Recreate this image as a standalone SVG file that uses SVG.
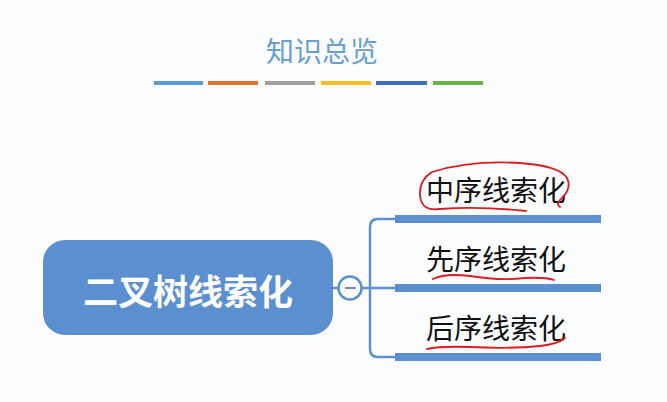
<svg xmlns="http://www.w3.org/2000/svg" width="667" height="402" viewBox="0 0 667 402">
<style>
.t{font-family:"Noto Sans CJK SC","Liberation Sans",sans-serif;}
.leaf{font-size:28px;fill:#111;}
.bar{fill:#5b8fd0;}
.conn{fill:none;stroke:#5b8fd0;stroke-width:2.5;}
.ink{fill:none;stroke:#d81e1e;stroke-width:1.8;stroke-linecap:round;stroke-linejoin:round;}
</style>
<rect width="667" height="402" fill="#fbfcfe"/>
<g id="header">
<text class="t" x="322" y="62" font-size="28" fill="#6a9fd4" text-anchor="middle">知识总览</text>
<rect x="154" y="81" width="49" height="4" fill="#5b9bd5"/>
<rect x="208" y="81" width="50" height="4" fill="#e0722c"/>
<rect x="265" y="81" width="50" height="4" fill="#a0a0a0"/>
<rect x="321" y="81" width="50" height="4" fill="#f5bd1f"/>
<rect x="376" y="81" width="51" height="4" fill="#3f6cbf"/>
<rect x="433" y="81" width="50" height="4" fill="#6ab545"/>
</g>
<g id="connectors">
<line class="conn" x1="333" y1="288" x2="338" y2="288"/>
<line class="conn" x1="362" y1="288" x2="396" y2="288"/>
<path class="conn" d="M396 219 H378 Q370 219 370 227 V349 Q370 357 378 357 H396"/>
</g>
<g id="root">
<rect x="43" y="240" width="290" height="95" rx="22" fill="#5b8fd0"/>
<text class="t" x="188" y="305" font-size="35" font-weight="bold" fill="#fff" text-anchor="middle">二叉树线索化</text>
</g>
<g id="toggle">
<circle cx="350" cy="288" r="11.5" fill="#fff" stroke="#5b8fd0" stroke-width="2.5"/>
<line x1="345" y1="288" x2="356" y2="288" stroke="#8a7fb0" stroke-width="2"/>
</g>
<g id="n1">
<rect class="bar" x="395" y="215" width="206" height="8"/>
<text class="t leaf" x="426" y="201">中序线索化</text>
</g>
<g id="n2">
<rect class="bar" x="395" y="284" width="206" height="8"/>
<text class="t leaf" x="426" y="270">先序线索化</text>
</g>
<g id="n3">
<rect class="bar" x="395" y="353" width="206" height="8"/>
<text class="t leaf" x="426" y="339">后序线索化</text>
</g>
<g id="annotations">
<path class="ink" d="M432 172 Q470 160 520 163 Q560 166 567 178 Q572 188 562 198 Q555 204 560 207 M432 172 Q419 180 420 196 Q422 212 440 209 Q480 206 526 211"/>
<path class="ink" d="M433 279 Q445 273 470 276 Q500 281 525 278 Q545 277 554 280"/>
<path class="ink" d="M427 349 Q440 346 470 347 Q510 349 540 346 Q558 344 565 338"/>
</g>
</svg>
